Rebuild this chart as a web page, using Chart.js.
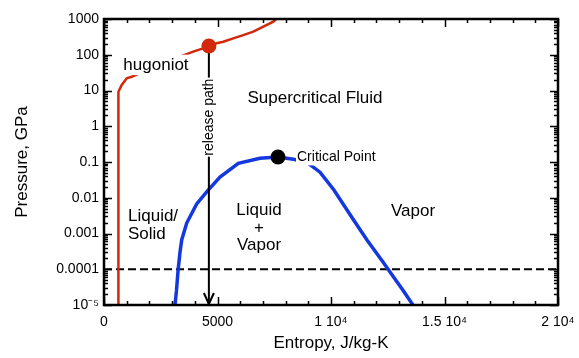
<!DOCTYPE html>
<html><head><meta charset="utf-8">
<script src="https://cdn.jsdelivr.net/npm/chart.js@4/dist/chart.umd.min.js"></script>
<style>html,body{margin:0;padding:0;background:#fff;}#wrap{width:579px;height:358px;}</style>
</head><body><div id="wrap"><canvas id="c" width="579" height="358"></canvas></div>
<script>
// ---- data (entropy J/kg-K, pressure GPa) ----
const hugoniotS = [620, 620, 650, 780, 1000, 1220, 2026, 2830, 3350, 3930, 4370, 4620, 4960, 5255, 5695, 6135, 6575, 7020, 7460, 7580];
const hugoniotP = [1e-5, 5.4, 9.2, 14.3, 21.9, 24.3, 40, 68, 88, 122, 151, 176, 209, 232, 288, 355, 442, 610, 840, 1000];
const domeS = [3128, 3194, 3260, 3348, 3423, 3643, 4083, 4560, 5110, 5916, 6872, 7665, 8340, 9000, 9515, 10130, 10880, 11585, 12290, 12600, 13170, 13610];
const domeP = [1e-5, 2.6e-5, 8.9e-5, 3.0e-4, 6.6e-4, 1.96e-3, 6.7e-3, 0.0155, 0.038, 0.092, 0.127, 0.138, 0.12, 0.091, 0.052, 0.0165, 0.0031, 6.6e-4, 1.6e-4, 8.4e-5, 2.6e-5, 1e-5];
const releaseS = [4620, 4620];
const releaseP = [176, 1e-5];
const shockS = [4620];
const shockP = [176];
const criticalS = [7665];
const criticalP = [0.138];
const refS = [0, 20000];
const refP = [1e-4, 1e-4];
const xTickValues = [0, 5000, 10000, 15000, 20000];
const xTickLabels = ['0', '5000', '1 10\u2074', '1.5 10\u2074', '2 10\u2074'];
const yTickValues = [1e-5, 1e-4, 1e-3, 0.01, 0.1, 1, 10, 100, 1000];
const yTickLabels = ['10\u207B\u2075', '0.0001', '0.001', '0.01', '0.1', '1', '10', '100', '1000'];
const labelTexts = ['hugoniot', 'Supercritical Fluid', ['Liquid/', 'Solid'], ['Liquid', '+', 'Vapor'], 'Vapor', 'Critical Point', 'release path'];
const labelS = [2290, 9295, 1057, 6828, 13612, 8502, 4620];
const labelP = [52, 6.2, 1.74e-3, 1.43e-3, 4.1e-3, 0.138, 1.8];

// ---- styles ----
const RED = '#d2280c', BLUE = '#1438e0';
const FONT = "'Liberation Sans', Arial, Helvetica, sans-serif";
const labelStyles = [
  {size: 17, align: 'center', bg: true},
  {size: 17, align: 'center'},
  {size: 17, align: 'left', lh: 18},
  {size: 17, align: 'center', lh: 17.5},
  {size: 17, align: 'center'},
  {size: 14, align: 'left', bg: true},
  {size: 14, align: 'center', bg: true, rot: -Math.PI / 2}
];
Chart.defaults.font.family = FONT;
Chart.defaults.color = '#000';

const pts = (xs, ys) => xs.map((x, i) => ({x: x, y: ys[i]}));

const framePlugin = {
  id: 'frame',
  afterDraw(chart) {
    const {ctx, chartArea: a, scales: {x, y}} = chart;
    ctx.save();
    ctx.strokeStyle = '#000';
    // arrow head for release path
    const ax = x.getPixelForValue(releaseS[1]), ay = y.getPixelForValue(releaseP[1]);
    ctx.lineWidth = 2;
    ctx.beginPath();
    ctx.moveTo(ax - 5, ay - 12); ctx.lineTo(ax, ay - 1); ctx.lineTo(ax + 5, ay - 12);
    ctx.stroke();
    // ticks
    ctx.lineWidth = 1.5;
    ctx.beginPath();
    for (let v = x.min; v <= x.max; v += 1000) {
      const px = Math.round(x.getPixelForValue(v)) + 0.5;
      const L = v % 5000 === 0 ? 8 : 4;
      ctx.moveTo(px, a.bottom); ctx.lineTo(px, a.bottom - L);
      ctx.moveTo(px, a.top); ctx.lineTo(px, a.top + L);
    }
    for (let d = -5; d <= 3; d++) {
      for (let m = 1; m <= 9; m++) {
        const v = m * Math.pow(10, d);
        if (v > 1000.0001) break;
        const py = Math.round(y.getPixelForValue(v)) + 0.5;
        const L = m === 1 ? 8 : 4;
        ctx.moveTo(a.left, py); ctx.lineTo(a.left + L, py);
        ctx.moveTo(a.right, py); ctx.lineTo(a.right - L, py);
      }
    }
    ctx.stroke();
    ctx.lineWidth = 2.5;
    ctx.strokeRect(a.left, a.top, a.right - a.left, a.bottom - a.top);
    ctx.restore();
  }
};

const labelPlugin = {
  id: 'labels',
  afterDatasetsDraw(chart) {
    const {ctx, scales: {x, y}} = chart;
    ctx.save();
    labelTexts.forEach((t, i) => {
      const st = labelStyles[i];
      const lines = Array.isArray(t) ? t : [t];
      const lh = st.lh || st.size * 1.2;
      ctx.font = st.size + 'px ' + FONT;
      ctx.textBaseline = 'middle';
      ctx.textAlign = st.align;
      const px = x.getPixelForValue(labelS[i]), py = y.getPixelForValue(labelP[i]);
      ctx.save();
      ctx.translate(px, py);
      if (st.rot) ctx.rotate(st.rot);
      const h = lh * lines.length;
      const y0 = -h / 2 + lh / 2;
      if (st.bg) {
        const w = Math.max(...lines.map(l => ctx.measureText(l).width));
        const bx = st.align === 'left' ? -1 : -w / 2 - 1;
        ctx.fillStyle = '#fff';
        ctx.fillRect(bx, -h / 2, w + 2, h);
      }
      ctx.fillStyle = '#000';
      lines.forEach((l, k) => ctx.fillText(l, 0, y0 + k * lh));
      ctx.restore();
    });
    ctx.restore();
  }
};

new Chart(document.getElementById('c'), {
  type: 'scatter',
  data: {datasets: [
    {data: pts(shockS, shockP), pointRadius: 7.5, pointBackgroundColor: RED, pointBorderWidth: 0, showLine: false, order: 0},
    {data: pts(criticalS, criticalP), pointRadius: 7.5, pointBackgroundColor: '#000', pointBorderWidth: 0, showLine: false, order: 0},
    {data: pts(hugoniotS, hugoniotP), showLine: true, borderColor: RED, borderWidth: 2.5, pointRadius: 0, order: 2},
    {data: pts(domeS, domeP), showLine: true, borderColor: BLUE, borderWidth: 3.5, pointRadius: 0, order: 2},
    {data: pts(releaseS, releaseP), showLine: true, borderColor: '#000', borderWidth: 2, pointRadius: 0, order: 1},
    {data: pts(refS, refP), showLine: true, borderColor: '#000', borderWidth: 2, borderDash: [8, 4], pointRadius: 0, order: 3}
  ]},
  options: {
    responsive: false, animation: false, events: [],
    layout: {padding: {top: 19, right: 21, left: 0, bottom: 0}},
    plugins: {legend: {display: false}, tooltip: {enabled: false}},
    scales: {
      x: {
        type: 'linear', min: 0, max: 20000,
        afterBuildTicks: s => { s.ticks = xTickValues.map(v => ({value: v})); },
        afterFit: s => { s.height = 53; s.paddingRight = 0; s.paddingLeft = 0; },
        ticks: {callback: (v, i) => xTickLabels[i], font: {size: 14}, padding: 9, maxRotation: 0, autoSkip: false},
        grid: {display: false, drawTicks: false}, border: {display: false},
        title: {display: true, text: 'Entropy, J/kg-K', font: {size: 17}, padding: {top: 0, bottom: 4}}
      },
      y: {
        type: 'logarithmic', min: 1e-5, max: 1000,
        afterBuildTicks: s => { s.ticks = yTickValues.map(v => ({value: v})); },
        afterFit: s => { s.width = 104; s.paddingTop = 0; s.paddingBottom = 0; },
        ticks: {callback: (v, i) => yTickLabels[i], font: {size: 14}, padding: 5, autoSkip: false},
        grid: {display: false, drawTicks: false}, border: {display: false},
        title: {display: true, text: 'Pressure, GPa', font: {size: 17}, padding: {top: 12, bottom: 0}}
      }
    }
  },
  plugins: [labelPlugin, framePlugin]
});
</script>
</body></html>
